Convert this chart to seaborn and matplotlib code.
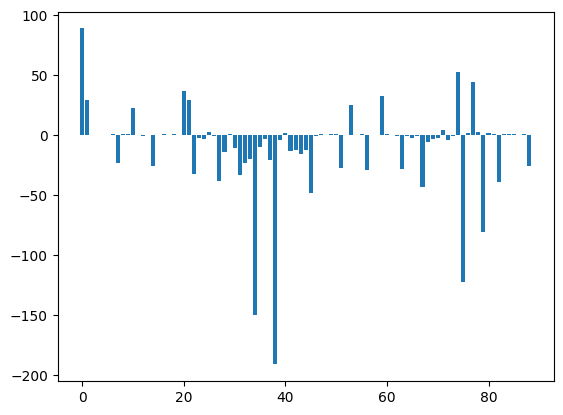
import matplotlib
matplotlib.use("Agg")
import matplotlib.pyplot as plt
import numpy as np
import pandas as pd
import seaborn as sns

# bar values, index 0..88
index = list(range(89))
values = [
    89, 29, 0, 0, 0, 0, 1, -23, 1, 1,
    23, 0, -1, 0, -26, 0, 1, 0, 1, 0,
    36.5, 29, -32, -2, -3, 3, -1, -38, -14, 1,
    -11, -33, -23, -20, -150, -10, -3, -21, -191, -4,
    2, -13, -12, -16, -12.5, -48, -1, 1, 0, 1,
    1, -27, 0, 25, 0, 1, -29, 0, 0, 33,
    1, 0, -1, -28, -1, -2, -1, -43, -6, -3,
    -2, 4, -4, -1, 53, -122, 2, 44, 3, -81,
    2, 1, -39, 1, 1, 1, 0, 1, -26,
]

df = pd.DataFrame({"idx": index, "value": values})

fig, ax = plt.subplots(figsize=(6.4, 4.8))
sns.barplot(data=df, x="idx", y="value", native_scale=True, errorbar=None,
            color="#1f77b4", saturation=1, width=0.8, linewidth=0, ax=ax)
ax.set_xlabel("")
ax.set_ylabel("")
ax.margins(x=0.05)

plt.savefig("out.png", dpi=100, bbox_inches="tight")
plt.close()
